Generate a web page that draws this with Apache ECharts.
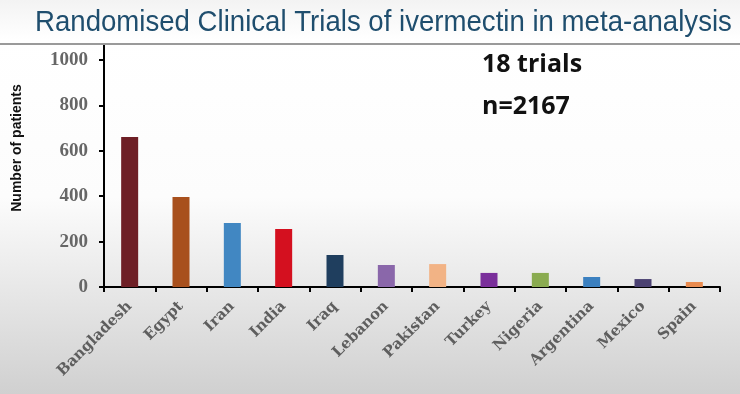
<!DOCTYPE html>
<html><head><meta charset="utf-8">
<script src="https://cdn.jsdelivr.net/npm/echarts@6/dist/echarts.min.js"></script>
<style>html,body{margin:0;padding:0;}#c{width:740px;height:394px;}</style>
</head><body><div id="c"></div>
<script>
const countries = ['Bangladesh','Egypt','Iran','India','Iraq','Lebanon','Pakistan','Turkey','Nigeria','Argentina','Mexico','Spain'];
const patients = [661, 396, 282, 255, 141, 97, 101, 62, 62, 44, 35, 22];
const barColors = ['#6e1f26','#a8501d','#4187c2','#d4101f','#1f3e5e','#8a67aa','#f2b385','#7a2f9b','#8aab50','#3b80c0','#4b4172','#e98b4f'];
const yTicks = [0, 200, 400, 600, 800, 1000];

const chart = echarts.init(document.getElementById('c'));
chart.setOption({
  backgroundColor: {type:'linear', x:0, y:0, x2:0, y2:1, colorStops:[
    {offset:0, color:'#f3f3f3'},{offset:0.1, color:'#ffffff'},{offset:0.5, color:'#fcfcfc'},{offset:1, color:'#d0d0d0'}]},
  animation:false,
  graphic: [
    {type:'text', x:35, y:8, scaleX:0.92, style:{text:'Randomised Clinical Trials of ivermectin in meta-analysis',
      font:'normal 30px "Liberation Sans", Arial, sans-serif', fill:'#1f4e6e'}},
    {type:'rect', shape:{x:0, y:43, width:740, height:2}, style:{fill:'#9a9a9a'}},
    {type:'line', shape:{x1:104, y1:45, x2:104, y2:60}, style:{stroke:'#000', lineWidth:2}},
    {type:'text', x:17, y:148, rotation:Math.PI/2, style:{text:'Number of patients', font:'bold 14px "Liberation Sans", Arial, sans-serif',
      fill:'#111', align:'center', verticalAlign:'middle'}},
    {type:'text', left:482, top:52, style:{text:'18 trials', font:'bold 25px "Open Sans", Lato, sans-serif', fill:'#111'}},
    {type:'text', left:482, top:94, style:{text:'n=2167', font:'bold 25px "Open Sans", Lato, sans-serif', fill:'#111'}}
  ],
  grid: {left:104, right:20, top:60, bottom:107, containLabel:false},
  xAxis: {
    type:'category', data: countries,
    axisLine:{lineStyle:{color:'#000', width:2}},
    axisTick:{show:true, length:5, lineStyle:{color:'#000', width:2}, alignWithLabel:false},
    axisLabel:{rotate:45, margin:17, fontFamily:'DejaVu Serif, serif', fontWeight:'bold', fontSize:15, color:'#5e5e5e', interval:0}
  },
  yAxis: {
    type:'value', min:0, max:1000, interval:200,
    splitLine:{show:false},
    axisLine:{show:true, lineStyle:{color:'#000', width:2}},
    axisTick:{show:true, length:5, lineStyle:{color:'#000', width:2}},
    axisLabel:{margin:16, fontFamily:'Liberation Serif, DejaVu Serif, serif', fontWeight:'bold', fontSize:19, color:'#666',
      formatter: v => yTicks.includes(v) ? String(v) : ''}
  },
  series: [{
    type:'bar', barWidth:17,
    data: patients.map((v,i)=>({value:v, itemStyle:{color:barColors[i]}}))
  }]
});
</script></body></html>
